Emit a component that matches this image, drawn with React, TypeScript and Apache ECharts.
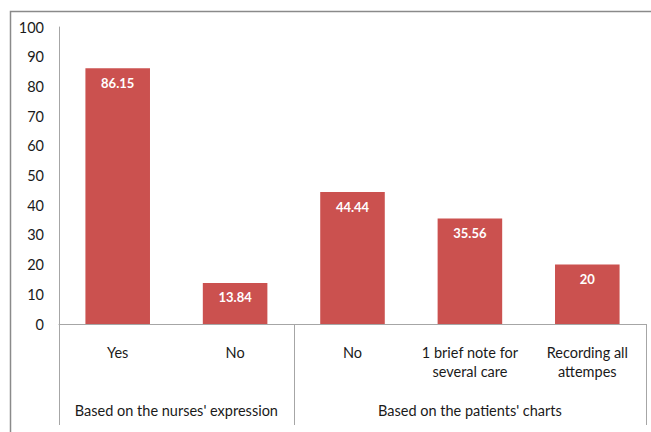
import React, { useEffect, useRef } from "react";
import * as echarts from "echarts";

const categories = ["Yes", "No", "No", "1 brief note for\nseveral care", "Recording all\nattempes"];
const values = [86.15, 13.84, 44.44, 35.56, 20];
const groupLabels = ["Based on the nurses' expression", "Based on the patients' charts"];
const groupSizes = [2, 3];
const yTicks = { min: 0, max: 100, interval: 10 };

const FONT = "Lato";
const BAR_COLOR = "#cb514f";
const LINE_COLOR = "#a6a6a6";
const TEXT_COLOR = "#1a1a1a";

export default function App() {
  const ref = useRef<HTMLDivElement>(null);
  useEffect(() => {
    if (!ref.current) return;
    const chart = echarts.init(ref.current, null, { renderer: "svg" });
    const boundaries = new Set<number>([0]);
    let acc = 0;
    groupSizes.forEach((s) => {
      acc += s;
      boundaries.add(acc);
    });
    const option: any = {
      animation: false,
      backgroundColor: "#ffffff",
      grid: { left: 59, right: 5, top: 27, bottom: 108, containLabel: false },
      xAxis: {
        type: "category",
        data: categories,
        axisLine: { show: true, lineStyle: { color: LINE_COLOR, width: 1 } },
        axisTick: {
          show: true,
          alignWithLabel: false,
          length: 101,
          interval: (i: number) => boundaries.has(i),
          lineStyle: { color: LINE_COLOR, width: 1 },
        },
        axisLabel: {
          interval: 0,
          margin: 19,
          color: TEXT_COLOR,
          fontFamily: FONT,
          fontSize: 14.5,
          lineHeight: 19,
        },
      },
      yAxis: {
        type: "value",
        min: yTicks.min,
        max: yTicks.max,
        interval: yTicks.interval,
        axisLine: { show: true, lineStyle: { color: LINE_COLOR, width: 1 } },
        axisTick: { show: false },
        splitLine: { show: false },
        axisLabel: { color: TEXT_COLOR, fontFamily: FONT, fontSize: 14.5, margin: 15 },
      },
      series: [
        {
          type: "bar",
          data: values,
          barWidth: "55%",
          itemStyle: { color: BAR_COLOR },
          label: {
            show: true,
            position: "insideTop",
            distance: 8,
            color: "#fff",
            fontWeight: "bold",
            fontFamily: FONT,
            fontSize: 13,
          },
        },
      ],
    };
    chart.setOption(option);

    const graphics: any[] = [
      {
        type: "rect",
        shape: { x: 10.5, y: 11.5, width: 700, height: 500 },
        style: { fill: "none", stroke: "#8a8a8a", lineWidth: 1.5 },
        silent: true,
      },
    ];
    let start = 0;
    groupSizes.forEach((s, gi) => {
      const a = chart.convertToPixel({ xAxisIndex: 0 }, start) as number;
      const b = chart.convertToPixel({ xAxisIndex: 0 }, start + s - 1) as number;
      const cx = (a + b) / 2;
      graphics.push({
        type: "text",
        x: cx,
        y: 410,
        style: {
          text: groupLabels[gi],
          fill: TEXT_COLOR,
          font: `14.5px ${FONT}`,
          align: "center",
          verticalAlign: "middle",
        },
      });
      start += s;
    });
    chart.setOption({ graphic: graphics });
    return () => chart.dispose();
  }, []);
  return (
    <div
      ref={ref}
      style={{ position: "fixed", left: 0, top: 0, width: 651, height: 432 }}
    />
  );
}
